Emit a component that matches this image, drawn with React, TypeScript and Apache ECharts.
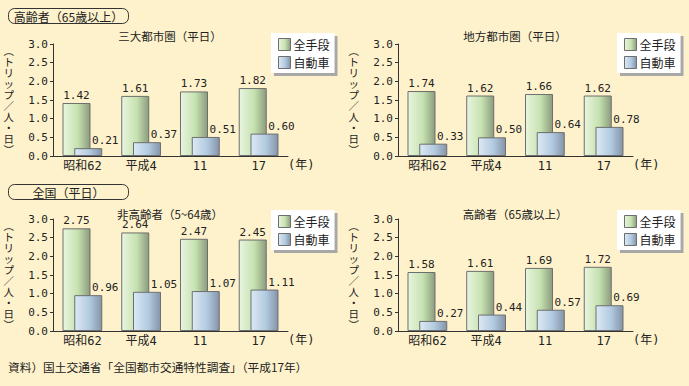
import React, { useEffect, useRef } from "react";
import * as echarts from "echarts";

const categories = ["昭和62", "平成4", "11", "17"];
const seriesNames = ["全手段", "自動車"];

// top-left: 高齢者 三大都市圏
const tlAll = [1.42, 1.61, 1.73, 1.82];
const tlCar = [0.21, 0.37, 0.51, 0.6];
// top-right: 高齢者 地方都市圏
const trAll = [1.74, 1.62, 1.66, 1.62];
const trCar = [0.33, 0.5, 0.64, 0.78];
// bottom-left: 全国 非高齢者
const blAll = [2.75, 2.64, 2.47, 2.45];
const blCar = [0.96, 1.05, 1.07, 1.11];
// bottom-right: 全国 高齢者
const brAll = [1.58, 1.61, 1.69, 1.72];
const brCar = [0.27, 0.44, 0.57, 0.69];

const panelTitles = ["三大都市圏（平日）", "地方都市圏（平日）", "非高齢者（5~64歳）", "高齢者（65歳以上）"];
const yTicks = { min: 0, max: 3, interval: 0.5 };
const yName = "︵\nト\nリ\nッ\nプ\n／\n人\n・\n日\n︶";

const BG = "#FEF2CC";
const CJK = "'Noto Sans CJK JP', sans-serif";
const MONO = "'DejaVu Sans Mono', 'Noto Sans CJK JP', monospace";
const TXT = "#222";

const greenGrad = new echarts.graphic.LinearGradient(0, 0, 1, 0, [
  { offset: 0, color: "#E8F5DF" },
  { offset: 0.55, color: "#C6E2B0" },
  { offset: 1, color: "#8C9C7E" },
]);
const blueGrad = new echarts.graphic.LinearGradient(0, 0, 1, 0, [
  { offset: 0, color: "#DCE9F4" },
  { offset: 0.55, color: "#B2CAE0" },
  { offset: 1, color: "#8494A8" },
]);

const panels = [
  { all: tlAll, car: tlCar, left: 53, top: 44, legendLeft: 271, legendTop: 33, titleTop: 30 },
  { all: trAll, car: trCar, left: 398, top: 44, legendLeft: 617, legendTop: 33, titleTop: 30 },
  { all: blAll, car: blCar, left: 53, top: 219, legendLeft: 271, legendTop: 210, titleTop: 208 },
  { all: brAll, car: brCar, left: 398, top: 219, legendLeft: 617, legendTop: 210, titleTop: 208 },
];

function boxLabel(x: number, y: number, w: number, h: number, text: string) {
  return {
    type: "group",
    x,
    y,
    children: [
      {
        type: "rect",
        shape: { x: 0, y: 0, width: w, height: h, r: 6 },
        style: { fill: BG, stroke: "#333", lineWidth: 1 },
      },
      {
        type: "text",
        x: w / 2,
        y: h / 2 + 0.5,
        style: {
          text,
          align: "center",
          verticalAlign: "middle",
          fontSize: 12,
          fontFamily: CJK,
          fill: TXT,
        },
      },
    ],
  };
}

export default function App() {
  const ref = useRef<HTMLDivElement>(null);
  useEffect(() => {
    document.body.style.margin = "0";
    const chart = echarts.init(ref.current!, null, { renderer: "svg" });
    const grid: any[] = [];
    const xAxis: any[] = [];
    const yAxis: any[] = [];
    const series: any[] = [];
    const legend: any[] = [];
    const title: any[] = [];
    panels.forEach((p, i) => {
      grid.push({ left: p.left, top: p.top, width: 235, height: 112 });
      xAxis.push({
        type: "category",
        gridIndex: i,
        data: categories,
        axisLine: { lineStyle: { color: "#333", width: 1 } },
        axisTick: { length: 4, lineStyle: { color: "#333" } },
        axisLabel: { fontSize: 12, margin: 4, color: TXT, fontFamily: MONO },
        name: "(年)",
        nameLocation: "end",
        nameGap: 0,
        nameTextStyle: {
          fontSize: 12,
          color: TXT,
          fontFamily: MONO,
          align: "left",
          verticalAlign: "top",
          padding: [3, 0, 0, 0],
        },
      });
      yAxis.push({
        type: "value",
        gridIndex: i,
        min: yTicks.min,
        max: yTicks.max,
        interval: yTicks.interval,
        axisLine: { show: true, lineStyle: { color: "#333", width: 1 } },
        axisTick: { show: true, length: 3, lineStyle: { color: "#333" } },
        splitLine: { show: false },
        axisLabel: {
          formatter: (v: number) => v.toFixed(1),
          margin: 5,
          fontSize: 11,
          color: TXT,
          fontFamily: MONO,
        },
        name: yName,
        nameLocation: "middle",
        nameGap: 39,
        nameRotate: 0,
        nameTextStyle: { fontSize: 10.5, lineHeight: 11, color: TXT, fontFamily: CJK },
      });
      series.push({
        type: "bar",
        name: seriesNames[0],
        xAxisIndex: i,
        yAxisIndex: i,
        data: p.all,
        barWidth: 28,
        barGap: "-58%",
        itemStyle: { color: greenGrad, borderColor: "#6E6E6E", borderWidth: 1 },
        label: {
          show: true,
          position: "top",
          distance: 2,
          formatter: (d: any) => Number(d.value).toFixed(2),
          fontSize: 11,
          color: TXT,
          fontFamily: MONO,
        },
      });
      series.push({
        type: "bar",
        name: seriesNames[1],
        xAxisIndex: i,
        yAxisIndex: i,
        data: p.car,
        barWidth: 28,
        barGap: "-58%",
        itemStyle: { color: blueGrad, borderColor: "#6E6E6E", borderWidth: 1 },
        label: {
          show: true,
          position: "top",
          distance: 2,
          offset: [17, 0],
          formatter: (d: any) => Number(d.value).toFixed(2),
          fontSize: 11,
          color: TXT,
          fontFamily: MONO,
        },
      });
      legend.push({
        data: seriesNames,
        orient: "vertical",
        left: p.legendLeft,
        top: p.legendTop,
        itemWidth: 12,
        itemHeight: 12,
        itemGap: 5,
        padding: [5, 5, 4, 7],
        backgroundColor: "#fff",
        shadowColor: "#A8A8A8",
        shadowBlur: 0,
        shadowOffsetX: 3,
        shadowOffsetY: 3,
        icon: "rect",
        itemStyle: { borderColor: "#6E6E6E", borderWidth: 1 },
        textStyle: { fontSize: 12, color: TXT, fontFamily: CJK, padding: [0, 0, 0, -2] },
        selectedMode: false,
      });
      title.push({
        text: panelTitles[i],
        left: p.left + 117,
        top: p.titleTop,
        textAlign: "center",
        padding: 0,
        textStyle: { fontSize: 11.5, fontWeight: "normal", color: TXT, fontFamily: CJK },
      });
    });

    chart.setOption({
      animation: false,
      backgroundColor: BG,
      title,
      grid,
      xAxis,
      yAxis,
      legend,
      series,
      graphic: [
        boxLabel(8.5, 8.5, 120, 15, "高齢者（65歳以上）"),
        boxLabel(8.5, 184.5, 120, 15, "全国（平日）"),
        {
          type: "text",
          left: 8,
          top: 361,
          style: {
            text: "資料）国土交通省「全国都市交通特性調査」（平成17年）",
            fontSize: 11.7,
            fontFamily: CJK,
            fill: TXT,
          },
        },
      ],
    });
    return () => chart.dispose();
  }, []);
  return (
    <div
      ref={ref}
      style={{ position: "fixed", left: 0, top: 0, width: 689, height: 386 }}
    />
  );
}
